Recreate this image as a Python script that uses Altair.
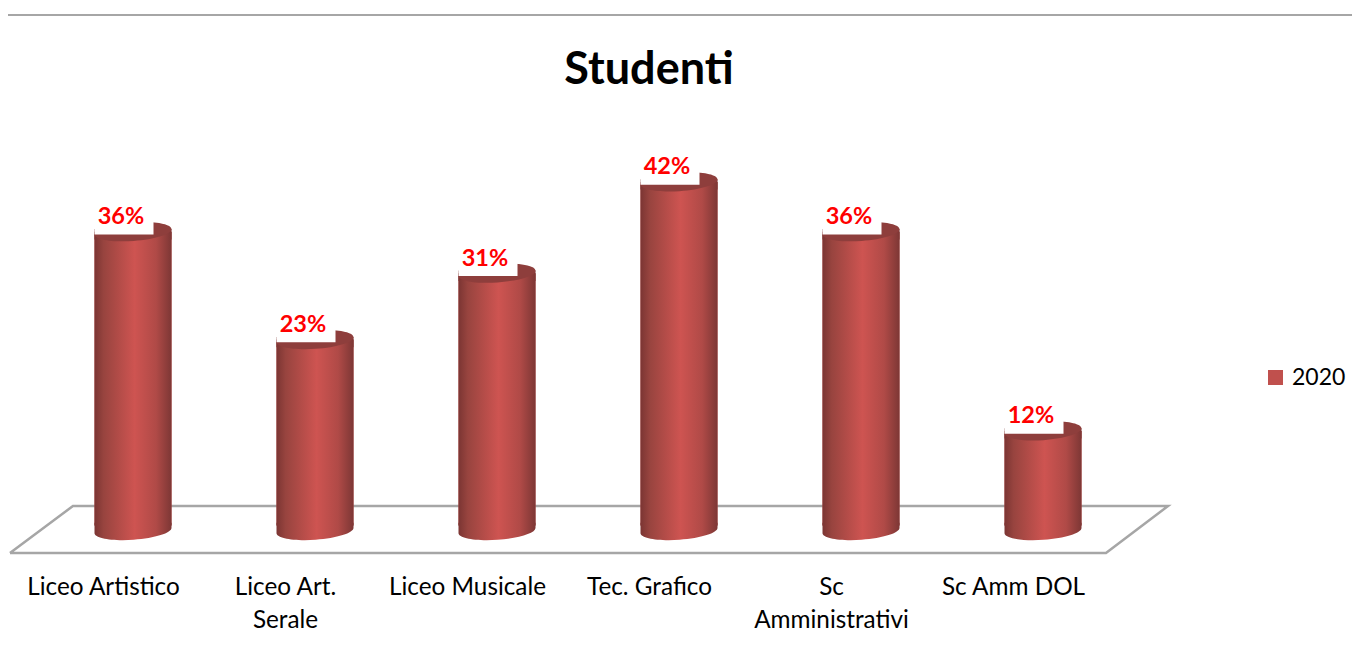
import altair as alt
import pandas as pd

CATEGORIES = ["Liceo Artistico", "Liceo Art.|Serale", "Liceo Musicale", "Tec. Grafico", "Sc|Amministrativi", "Sc Amm DOL"]
VALUES = [0.36, 0.23, 0.31, 0.42, 0.36, 0.12]
SERIES = "2020"
FLOOR_X = [-0.676, -0.33, 5.687, 5.346, -0.676]
FLOOR_Y = [-0.027, 0.0295, 0.0295, -0.027, -0.027]

FONT = "Lato"
RED = "#C0504D"
GREY = "#A6A6A6"

df = pd.DataFrame({"pos": list(range(len(CATEGORIES))), "value": VALUES, "series": SERIES,
                   "base": [0.0] * len(VALUES), "barbase": [0.006] * len(VALUES)})
floor = pd.DataFrame({"x": FLOOR_X, "y": FLOOR_Y, "i": list(range(len(FLOOR_X)))})

x_scale = alt.Scale(domain=[0, 5], range=[125, 1035], nice=False, zero=False, padding=0)
y_scale = alt.Scale(domain=[0, 0.5], range=[452.5, 37.5], nice=False, zero=False, padding=0)

names = ",".join("'" + c + "'" for c in CATEGORIES)
AXIS = alt.Axis(values=list(range(len(CATEGORIES))), grid=False, domain=False, ticks=False,
                labelExpr=f"split([{names}][datum.value],'|')", labelFont=FONT, labelFontSize=24.3,
                labelColor="#000000", labelLineHeight=33, labelPadding=5, labelOffset=-30,
                labelAngle=0, labelFlush=False, labelOverlap=False, labelLimit=300, labelBaseline="top")
X = alt.X("pos:Q", scale=x_scale, title=None, axis=AXIS)
Y = alt.Y("value:Q", scale=y_scale, title=None, axis=None)
Y_BASE = alt.Y("base:Q", scale=y_scale, title=None, axis=None)

cyl = alt.Gradient(gradient="linear", x1=0, x2=1, y1=0, y2=0, stops=[
    alt.GradientStop(offset=0, color="#7B3533"),
    alt.GradientStop(offset=0.12, color="#98443F"),
    alt.GradientStop(offset=0.52, color="#CE5451"),
    alt.GradientStop(offset=0.8, color="#B04A47"),
    alt.GradientStop(offset=1, color="#7D3735"),
])
ELLIPSE = "M-1,0.07 A1,0.24 -4 1,0 1,-0.07 A1,0.24 -4 1,0 -1,0.07 Z"
BOTTOM_CAP = "M-1,-0.2 V0.07 A1,0.24 -4 0,0 1,-0.07 V-0.2 Z"
TOP_CAP = "M-1,-0.07 H1 V0.2 H-1 Z"
BOX = "M-1,-0.5 H1 V0.5 H-1 Z"
CYL_SIZE = 5929

rule = alt.Chart(pd.DataFrame({"a": [0]})).mark_rule(color=GREY, size=2).encode(
    x=alt.value(0), x2=alt.value(1344), y=alt.value(-63))
floor_line = alt.Chart(floor).mark_line(color=GREY, strokeWidth=2.5).encode(
    x=alt.X("x:Q", scale=x_scale, title=None, axis=AXIS),
    y=alt.Y("y:Q", scale=y_scale, title=None, axis=None), order="i:Q")
plain = alt.Chart(df).mark_bar(width=77).encode(
    x=X, y=Y, y2="barbase:Q",
    color=alt.Color("series:N", scale=alt.Scale(range=[RED]),
                    legend=alt.Legend(title=None, orient="none", legendX=1256, legendY=288, symbolType="square",
                                      symbolSize=225, symbolStrokeWidth=0, labelFont=FONT, labelFontSize=23,
                                      labelColor="#000000", labelOffset=5, padding=0)))
bottom = alt.Chart(df).mark_point(shape=BOTTOM_CAP, size=CYL_SIZE, filled=True, fill=cyl, opacity=1, strokeWidth=0).encode(x=X, y=Y_BASE)
body = alt.Chart(df).mark_bar(width=77, fill=cyl).encode(x=X, y=Y, y2="barbase:Q")
top_cap = alt.Chart(df).mark_point(shape=TOP_CAP, size=CYL_SIZE, filled=True, fill=cyl, opacity=1, strokeWidth=0).encode(x=X, y=Y)
top = alt.Chart(df).mark_point(shape=ELLIPSE, size=CYL_SIZE, filled=True, fill="#8E3E3C", opacity=1, strokeWidth=0).encode(x=X, y=Y)
box = alt.Chart(df).mark_point(shape=BOX, size=3481, filled=True, fill="#FFFFFF", opacity=1, strokeWidth=0,
                               xOffset=-9, yOffset=-12).encode(x=X, y=Y)
labels = alt.Chart(df).mark_text(font=FONT, fontSize=23.5, fontWeight="bold", color="#FF0000", dx=-12, dy=-14.5).encode(
    x=X, y=Y, text=alt.Text("value:Q", format=".0%"))

chart = alt.layer(rule, floor_line, plain, bottom, body, top_cap, top, box, labels).properties(
    width=1344, height=492,
    padding={"left": 0, "top": 70, "right": 0, "bottom": 70},
    autosize=alt.AutoSizeParams(type="none"),
    background="#FFFFFF",
    title=alt.TitleParams("Studenti", font=FONT, fontSize=45, fontWeight="bold", color="#000000",
                          anchor="middle", frame="group", dx=-31, offset=-115, baseline="alphabetic"),
).configure_view(stroke=None)

chart.save("out.html", embed_options={"renderer": "svg", "actions": False})
